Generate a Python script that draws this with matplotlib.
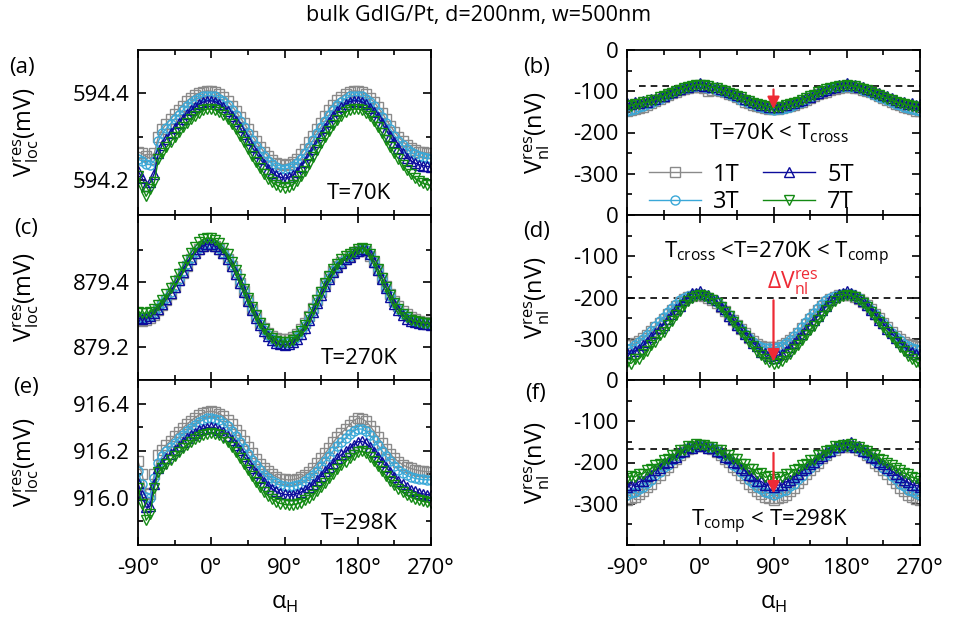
import numpy as np
import matplotlib
matplotlib.use('Agg')
import matplotlib.pyplot as plt

plt.rcParams['font.family'] = ['Open Sans', 'DejaVu Sans']
plt.rcParams['axes.unicode_minus'] = False
plt.rcParams['font.size'] = 16

# field angle alpha_H in degrees, 5 deg steps
angle = np.arange(-90, 271, 5)

fields = ['1T', '3T', '5T', '7T']
colors = ['#8a8a8a', '#3aa8d8', '#0c0c9c', '#138a13']
markers = ['s', 'o', '^', 'v']

# ---- (a) T=70K, V_loc (mV) ----
loc70_1T = [594.265, 594.262, 594.255, 594.250, 594.262, 594.300, 594.318, 594.330, 594.340, 594.352, 594.362, 594.372, 594.382, 594.390, 594.396, 594.401, 594.404, 594.406,
            594.405, 594.403, 594.398, 594.392, 594.383, 594.372, 594.360, 594.346, 594.332, 594.318, 594.303, 594.290, 594.277, 594.265, 594.255, 594.247, 594.240, 594.237,
            594.236, 594.238, 594.242, 594.250, 594.260, 594.272, 594.287, 594.302, 594.318, 594.333, 594.348, 594.362, 594.373, 594.384, 594.392, 594.399, 594.404, 594.406,
            594.405, 594.403, 594.398, 594.390, 594.380, 594.368, 594.355, 594.340, 594.326, 594.312, 594.300, 594.290, 594.281, 594.274, 594.269, 594.266, 594.264, 594.263, 594.263]
loc70_3T = [594.248, 594.245, 594.238, 594.236, 594.245, 594.290, 594.308, 594.320, 594.330, 594.341, 594.351, 594.361, 594.371, 594.379, 594.385, 594.390, 594.393, 594.395,
            594.395, 594.393, 594.388, 594.382, 594.373, 594.362, 594.350, 594.336, 594.322, 594.308, 594.293, 594.280, 594.267, 594.255, 594.245, 594.237, 594.230, 594.227,
            594.226, 594.228, 594.232, 594.240, 594.250, 594.262, 594.277, 594.292, 594.308, 594.323, 594.337, 594.351, 594.362, 594.373, 594.381, 594.388, 594.393, 594.395,
            594.395, 594.393, 594.388, 594.380, 594.370, 594.358, 594.345, 594.331, 594.317, 594.303, 594.291, 594.281, 594.272, 594.265, 594.260, 594.256, 594.253, 594.251, 594.250]
loc70_5T = [594.222, 594.205, 594.186, 594.195, 594.215, 594.262, 594.282, 594.296, 594.308, 594.320, 594.331, 594.342, 594.352, 594.361, 594.369, 594.376, 594.380, 594.383,
            594.383, 594.381, 594.376, 594.369, 594.360, 594.349, 594.336, 594.322, 594.307, 594.292, 594.277, 594.263, 594.249, 594.237, 594.226, 594.217, 594.211, 594.207,
            594.205, 594.207, 594.212, 594.220, 594.230, 594.243, 594.258, 594.273, 594.289, 594.305, 594.320, 594.334, 594.347, 594.359, 594.368, 594.376, 594.381, 594.383,
            594.383, 594.381, 594.375, 594.367, 594.357, 594.345, 594.331, 594.316, 594.301, 594.287, 594.274, 594.262, 594.252, 594.245, 594.240, 594.236, 594.234, 594.232, 594.231]
loc70_7T = [594.210, 594.185, 594.163, 594.180, 594.195, 594.248, 594.262, 594.276, 594.288, 594.300, 594.311, 594.322, 594.332, 594.341, 594.349, 594.356, 594.361, 594.364,
            594.364, 594.362, 594.357, 594.350, 594.341, 594.330, 594.317, 594.303, 594.288, 594.272, 594.257, 594.242, 594.228, 594.215, 594.204, 594.195, 594.189, 594.185,
            594.183, 594.185, 594.190, 594.198, 594.209, 594.222, 594.237, 594.253, 594.269, 594.285, 594.300, 594.314, 594.327, 594.339, 594.349, 594.357, 594.362, 594.364,
            594.364, 594.362, 594.356, 594.347, 594.336, 594.323, 594.308, 594.292, 594.277, 594.262, 594.249, 594.236, 594.224, 594.214, 594.205, 594.198, 594.193, 594.190, 594.188]

# ---- (b) T=70K, V_nl (nV) ----
nl70_1T = [-148, -146, -143, -140, -137, -133, -128, -124, -119, -115, -110, -105, -101, -97, -94, -92, -90, -89,
           -89, -92, -100, -96, -97, -99, -102, -106, -110, -115, -119, -125, -129, -133, -136, -139, -141, -143,
           -144, -143, -141, -139, -136, -133, -129, -125, -120, -116, -111, -107, -104, -101, -97, -94, -92, -90,
           -89, -89, -91, -93, -96, -99, -103, -107, -111, -116, -121, -126, -130, -134, -138, -141, -144, -147, -149]
nl70_3T = [-147, -145, -142, -139, -136, -132, -128, -123, -118, -114, -109, -104, -100, -96, -93, -91, -90, -88,
           -88, -89, -91, -93, -96, -99, -102, -106, -111, -115, -120, -124, -128, -132, -136, -139, -141, -143,
           -145, -144, -142, -140, -137, -133, -129, -125, -120, -115, -110, -106, -102, -98, -95, -92, -90, -89,
           -88, -89, -90, -93, -96, -100, -104, -108, -113, -117, -121, -126, -130, -134, -138, -141, -144, -146, -148]
nl70_5T = [-128, -132, -126, -129, -124, -125, -119, -118, -112, -111, -104, -102, -96, -95, -89, -90, -85, -86,
           -80, -87, -85, -90, -89, -95, -96, -102, -104, -110, -112, -118, -120, -126, -128, -133, -134, -138,
           -137, -139, -134, -134, -129, -128, -123, -121, -115, -113, -107, -105, -99, -97, -92, -90, -84, -86,
           -81, -86, -85, -90, -90, -95, -97, -102, -104, -110, -112, -117, -120, -125, -126, -131, -129, -134, -132]
nl70_7T = [-134, -136, -131, -132, -127, -127, -122, -120, -115, -112, -107, -104, -99, -96, -92, -89, -87, -84,
           -84, -86, -88, -91, -92, -97, -99, -104, -106, -112, -115, -120, -123, -128, -131, -134, -136, -139,
           -140, -138, -137, -134, -132, -128, -125, -121, -117, -112, -108, -103, -99, -95, -92, -90, -87, -87,
           -86, -88, -88, -92, -94, -98, -101, -106, -109, -114, -118, -122, -126, -129, -132, -134, -136, -137, -138]

# ---- (c) T=270K, V_loc (mV) ----
loc270_1T = [879.285, 879.282, 879.284, 879.290, 879.300, 879.314, 879.329, 879.346, 879.364, 879.384, 879.406, 879.428, 879.450, 879.470, 879.488, 879.501, 879.510, 879.515,
             879.515, 879.511, 879.502, 879.489, 879.471, 879.449, 879.425, 879.399, 879.372, 879.345, 879.319, 879.296, 879.276, 879.259, 879.245, 879.235, 879.229, 879.226,
             879.225, 879.227, 879.232, 879.242, 879.256, 879.274, 879.296, 879.320, 879.345, 879.370, 879.394, 879.415, 879.434, 879.450, 879.462, 879.472, 879.480, 879.488,
             879.495, 879.499, 879.495, 879.481, 879.461, 879.437, 879.412, 879.387, 879.364, 879.343, 879.326, 879.312, 879.301, 879.293, 879.287, 879.282, 879.279, 879.277, 879.276]
loc270_3T = [879.292, 879.290, 879.292, 879.297, 879.307, 879.320, 879.335, 879.351, 879.369, 879.389, 879.411, 879.433, 879.455, 879.475, 879.492, 879.505, 879.513, 879.518,
             879.517, 879.513, 879.504, 879.491, 879.474, 879.452, 879.428, 879.401, 879.373, 879.345, 879.318, 879.293, 879.271, 879.253, 879.238, 879.226, 879.218, 879.214,
             879.213, 879.215, 879.221, 879.231, 879.246, 879.265, 879.288, 879.313, 879.340, 879.366, 879.391, 879.413, 879.433, 879.450, 879.462, 879.472, 879.480, 879.489,
             879.497, 879.502, 879.498, 879.484, 879.462, 879.437, 879.410, 879.383, 879.358, 879.336, 879.318, 879.303, 879.292, 879.285, 879.280, 879.277, 879.275, 879.274, 879.273]
loc270_5T = [879.290, 879.288, 879.290, 879.295, 879.305, 879.318, 879.332, 879.348, 879.366, 879.386, 879.408, 879.430, 879.452, 879.472, 879.490, 879.503, 879.512, 879.517,
             879.516, 879.512, 879.503, 879.490, 879.472, 879.450, 879.425, 879.398, 879.370, 879.342, 879.315, 879.290, 879.268, 879.250, 879.235, 879.223, 879.214, 879.209,
             879.208, 879.210, 879.216, 879.226, 879.241, 879.260, 879.283, 879.309, 879.336, 879.362, 879.387, 879.410, 879.430, 879.447, 879.460, 879.470, 879.478, 879.488,
             879.497, 879.503, 879.500, 879.485, 879.463, 879.438, 879.410, 879.382, 879.356, 879.333, 879.314, 879.299, 879.288, 879.281, 879.277, 879.274, 879.272, 879.271, 879.270]
loc270_7T = [879.308, 879.305, 879.304, 879.308, 879.318, 879.331, 879.346, 879.363, 879.382, 879.403, 879.425, 879.447, 879.469, 879.490, 879.508, 879.522, 879.531, 879.535,
             879.534, 879.529, 879.519, 879.505, 879.486, 879.463, 879.437, 879.409, 879.380, 879.351, 879.324, 879.298, 879.276, 879.257, 879.241, 879.229, 879.221, 879.217,
             879.216, 879.218, 879.224, 879.234, 879.249, 879.268, 879.292, 879.318, 879.345, 879.371, 879.396, 879.419, 879.440, 879.457, 879.470, 879.479, 879.486, 879.494,
             879.502, 879.506, 879.502, 879.487, 879.465, 879.440, 879.413, 879.386, 879.360, 879.337, 879.318, 879.303, 879.292, 879.285, 879.280, 879.277, 879.275, 879.274, 879.273]

# ---- (d) T=270K, V_nl (nV) ----
nl270_1T = [-314, -316, -311, -306, -299, -291, -282, -272, -262, -251, -241, -230, -220, -211, -204, -199, -196, -195,
            -195, -197, -201, -207, -214, -223, -233, -244, -255, -266, -277, -287, -297, -305, -312, -317, -320, -321,
            -320, -319, -316, -311, -304, -296, -286, -275, -264, -252, -241, -230, -220, -211, -203, -198, -195, -194,
            -194, -195, -198, -203, -210, -218, -228, -239, -250, -261, -272, -283, -293, -301, -308, -313, -316, -318, -319]
nl270_3T = [-324, -322, -316, -308, -300, -290, -281, -270, -258, -248, -236, -226, -216, -207, -200, -196, -193, -192,
            -192, -194, -198, -204, -212, -221, -232, -243, -255, -266, -277, -288, -298, -307, -314, -319, -322, -323,
            -322, -321, -317, -311, -303, -294, -283, -272, -260, -248, -237, -226, -216, -207, -200, -196, -193, -191,
            -191, -192, -196, -202, -210, -219, -230, -241, -252, -263, -274, -285, -295, -304, -312, -318, -322, -326, -328]
nl270_5T = [-334, -338, -329, -325, -316, -308, -296, -286, -274, -266, -252, -241, -229, -220, -206, -199, -190, -190,
            -185, -191, -193, -202, -207, -220, -229, -244, -253, -267, -274, -289, -296, -311, -318, -331, -335, -342,
            -346, -340, -337, -329, -320, -311, -298, -289, -276, -266, -254, -244, -230, -221, -207, -199, -191, -189,
            -184, -190, -193, -201, -208, -218, -230, -240, -254, -263, -276, -285, -298, -308, -318, -327, -332, -338, -336]
nl270_7T = [-356, -360, -350, -349, -337, -330, -316, -307, -292, -283, -267, -257, -242, -233, -218, -209, -200, -197,
            -194, -196, -200, -205, -214, -222, -235, -245, -259, -269, -283, -293, -307, -317, -331, -339, -350, -356,
            -362, -358, -354, -344, -337, -324, -316, -302, -292, -278, -268, -254, -244, -231, -221, -208, -202, -196,
            -193, -196, -199, -206, -213, -224, -235, -247, -259, -272, -283, -296, -307, -320, -330, -342, -349, -356, -360]

# ---- (e) T=298K, V_loc (mV) ----
loc298_1T = [916.155, 916.100, 916.020, 916.015, 916.100, 916.180, 916.205, 916.225, 916.243, 916.262, 916.280, 916.296, 916.312, 916.327, 916.340, 916.352, 916.360, 916.366,
             916.367, 916.364, 916.357, 916.346, 916.331, 916.312, 916.290, 916.266, 916.240, 916.214, 916.189, 916.166, 916.145, 916.127, 916.112, 916.100, 916.090, 916.082,
             916.078, 916.076, 916.077, 916.081, 916.088, 916.098, 916.111, 916.127, 916.146, 916.167, 916.189, 916.212, 916.236, 916.258, 916.276, 916.292, 916.310, 916.328,
             916.338, 916.336, 916.325, 916.306, 916.282, 916.257, 916.232, 916.208, 916.186, 916.168, 916.153, 916.141, 916.132, 916.125, 916.120, 916.116, 916.113, 916.111, 916.110]
loc298_3T = [916.112, 916.060, 916.005, 916.000, 916.085, 916.150, 916.176, 916.197, 916.215, 916.234, 916.252, 916.268, 916.284, 916.298, 916.311, 916.322, 916.331, 916.337,
             916.339, 916.336, 916.329, 916.318, 916.303, 916.284, 916.262, 916.238, 916.212, 916.186, 916.161, 916.138, 916.117, 916.099, 916.084, 916.071, 916.061, 916.054,
             916.050, 916.048, 916.049, 916.053, 916.060, 916.070, 916.083, 916.098, 916.116, 916.136, 916.157, 916.178, 916.200, 916.220, 916.238, 916.254, 916.270, 916.284,
             916.292, 916.292, 916.283, 916.267, 916.246, 916.223, 916.199, 916.176, 916.155, 916.136, 916.120, 916.106, 916.096, 916.088, 916.083, 916.080, 916.078, 916.077, 916.076]
loc298_5T = [916.062, 916.010, 915.960, 915.965, 916.060, 916.125, 916.150, 916.168, 916.186, 916.204, 916.221, 916.237, 916.252, 916.265, 916.277, 916.287, 916.294, 916.298,
             916.300, 916.297, 916.290, 916.279, 916.264, 916.246, 916.225, 916.202, 916.177, 916.152, 916.128, 916.105, 916.084, 916.066, 916.050, 916.037, 916.027, 916.019,
             916.015, 916.013, 916.014, 916.018, 916.024, 916.033, 916.045, 916.059, 916.075, 916.093, 916.112, 916.131, 916.150, 916.168, 916.184, 916.198, 916.212, 916.226,
             916.238, 916.240, 916.232, 916.216, 916.196, 916.174, 916.151, 916.129, 916.108, 916.089, 916.072, 916.057, 916.045, 916.035, 916.027, 916.021, 916.017, 916.014, 916.013]
loc298_7T = [916.040, 915.975, 915.905, 915.930, 916.040, 916.110, 916.128, 916.145, 916.162, 916.179, 916.195, 916.210, 916.224, 916.237, 916.249, 916.259, 916.267, 916.272,
             916.275, 916.272, 916.265, 916.253, 916.237, 916.217, 916.194, 916.169, 916.143, 916.117, 916.091, 916.067, 916.045, 916.026, 916.009, 915.995, 915.984, 915.976,
             915.972, 915.970, 915.971, 915.974, 915.980, 915.989, 916.000, 916.014, 916.030, 916.047, 916.065, 916.084, 916.103, 916.121, 916.138, 916.154, 916.169, 916.183,
             916.195, 916.197, 916.190, 916.175, 916.156, 916.135, 916.113, 916.092, 916.072, 916.054, 916.038, 916.024, 916.012, 916.003, 915.996, 915.990, 915.985, 915.982, 915.980]

# ---- (f) T=298K, V_nl (nV) ----
nl298_1T = [-292, -286, -284, -276, -270, -259, -251, -238, -230, -217, -210, -199, -192, -181, -175, -167, -165, -160,
            -161, -160, -165, -167, -175, -181, -192, -199, -210, -217, -230, -238, -251, -259, -270, -276, -284, -286,
            -291, -287, -283, -278, -268, -261, -249, -240, -228, -219, -208, -201, -190, -183, -173, -169, -163, -162,
            -159, -162, -163, -169, -173, -183, -190, -201, -208, -219, -228, -240, -249, -261, -268, -278, -283, -288, -292]
nl298_3T = [-279, -273, -272, -264, -259, -249, -242, -230, -223, -212, -205, -195, -189, -179, -174, -166, -165, -160,
            -161, -160, -164, -166, -173, -179, -189, -195, -205, -212, -223, -230, -242, -249, -259, -264, -272, -274,
            -278, -275, -270, -266, -257, -251, -240, -232, -221, -214, -203, -197, -187, -181, -172, -168, -163, -161,
            -160, -162, -163, -168, -172, -181, -187, -197, -203, -213, -221, -232, -240, -251, -257, -266, -270, -275, -279]
nl298_5T = [-259, -254, -255, -246, -244, -233, -230, -218, -214, -202, -199, -188, -186, -174, -173, -162, -164, -155,
            -159, -157, -165, -164, -173, -175, -186, -188, -199, -202, -214, -218, -230, -233, -244, -246, -255, -254,
            -259, -255, -254, -247, -243, -234, -229, -219, -213, -203, -198, -188, -184, -175, -171, -163, -162, -155,
            -157, -150, -163, -160, -173, -174, -186, -189, -198, -203, -213, -219, -228, -234, -243, -247, -254, -255, -259]
nl298_7T = [-237, -232, -235, -227, -227, -217, -215, -205, -203, -193, -192, -181, -181, -170, -170, -161, -163, -156,
            -158, -157, -163, -162, -170, -170, -181, -181, -192, -192, -203, -204, -215, -216, -227, -226, -236, -232,
            -239, -234, -235, -228, -227, -218, -216, -206, -204, -193, -193, -183, -181, -171, -170, -161, -163, -157,
            -159, -156, -163, -162, -170, -171, -180, -183, -191, -194, -202, -206, -214, -218, -226, -229, -236, -238, -244]

loc_sets = [(loc70_1T, loc70_3T, loc70_5T, loc70_7T),
            (loc270_1T, loc270_3T, loc270_5T, loc270_7T),
            (loc298_1T, loc298_3T, loc298_5T, loc298_7T)]
nl_sets = [(nl70_1T, nl70_3T, nl70_5T, nl70_7T),
           (nl270_1T, nl270_3T, nl270_5T, nl270_7T),
           (nl298_1T, nl298_3T, nl298_5T, nl298_7T)]

loc_ylims = [(594.12, 594.50), (879.10, 879.606), (915.80, 916.50)]
loc_major = [[594.2, 594.4], [879.2, 879.4], [916.0, 916.2, 916.4]]
loc_minor = [[594.3], [879.3, 879.5], [915.9, 916.1, 916.3]]
temps = ['T=70K', 'T=270K', 'T=298K']
dashed_y = [-87, -200, -168]
arrow_y = [(-89, -150), (-200, -362), (-170, -282)]

red = '#ee2a35'
fig = plt.figure(figsize=(9.58, 6.26), dpi=100)

W = 293 / 958
H = 165 / 626
rows_y0 = [1 - 215 / 626, 1 - 380 / 626, 1 - 545 / 626]
left_x0 = 138 / 958
right_x0 = 627 / 958


def style_axis(ax, bottom):
    ax.set_xlim(-90, 270)
    ax.set_xticks([-90, 0, 90, 180, 270])
    ax.set_xticks([-45, 45, 135, 225], minor=True)
    ax.tick_params(which='both', direction='in', top=True, right=True, width=1.2)
    ax.tick_params(which='major', length=6, pad=6)
    ax.tick_params(which='minor', length=3.5)
    ax.tick_params(axis='x', which='major', pad=9)
    for sp in ax.spines.values():
        sp.set_linewidth(1.3)
    if bottom:
        ax.set_xticklabels(['-90°', '0°', '90°', '180°', '270°'])
        ax.set_xlabel('α$_\\mathregular{H}$', fontsize=17, labelpad=9)
    else:
        ax.set_xticklabels([])


def draw_series(ax, series):
    for vals, c, m, lab in zip(series, colors, markers, fields):
        ax.plot(angle, vals, color=c, marker=m, ms=6.5, mfc='none', mew=1.0,
                lw=1.0, label=lab)


for r in range(3):
    # left column: local signal
    ax = fig.add_axes([left_x0, rows_y0[r], W, H])
    draw_series(ax, loc_sets[r])
    style_axis(ax, r == 2)
    ax.set_ylim(*loc_ylims[r])
    ax.set_yticks(loc_major[r])
    ax.set_yticks(loc_minor[r], minor=True)
    ax.set_yticklabels(['%.1f' % v for v in loc_major[r]])
    ax.set_ylabel('V$^\\mathregular{res}_\\mathregular{loc}$(mV)', fontsize=17)
    ax.yaxis.set_label_coords(-0.33, 0.5)
    ax.text(0.755, 0.13, temps[r], transform=ax.transAxes, ha='center', va='center', fontsize=16)

    # right column: nonlocal signal
    ax = fig.add_axes([right_x0, rows_y0[r], W, H])
    x0 = -75 if r == 0 else -90
    ax.plot([x0, 270], [dashed_y[r]] * 2, color='k', ls=(0, (4, 3)), lw=1.2, zorder=1)
    draw_series(ax, nl_sets[r])
    style_axis(ax, r == 2)
    ax.set_ylim(-400, 0)
    ax.set_yticks([-400, -300, -200, -100, 0])
    ax.set_yticks([-350, -250, -150, -50], minor=True)
    ax.set_yticklabels(['', '-300', '-200', '-100', '0'])
    ax.set_ylabel('V$^\\mathregular{res}_\\mathregular{nl}$(nV)', fontsize=17)
    ax.yaxis.set_label_coords(-0.255, 0.5)
    ya, yb = arrow_y[r]
    ax.annotate('', xy=(90, yb), xytext=(90, ya),
                arrowprops=dict(arrowstyle='-|>', color=red, lw=1.6, mutation_scale=18),
                zorder=5)
    if r == 0:
        ax.text(0.52, 0.46, 'T=70K < T$_\\mathregular{cross}$', transform=ax.transAxes,
                ha='center', va='baseline', fontsize=16)
        ax.legend(loc='lower left', bbox_to_anchor=(0.02, -0.095), ncol=2, frameon=False,
                  numpoints=1, handlelength=2.2, columnspacing=1.0, labelspacing=0.15,
                  handletextpad=0.5, fontsize=17, borderpad=0.2)
    elif r == 1:
        ax.text(0.51, 0.735, 'T$_\\mathregular{cross}$ <T=270K < T$_\\mathregular{comp}$',
                transform=ax.transAxes, ha='center', va='baseline', fontsize=16)
        ax.text(0.565, 0.552, 'ΔV$^\\mathregular{res}_\\mathregular{nl}$', transform=ax.transAxes,
                ha='center', va='baseline', fontsize=16.5, color=red)
    else:
        ax.text(0.485, 0.11, 'T$_\\mathregular{comp}$ < T=298K', transform=ax.transAxes,
                ha='center', va='baseline', fontsize=16)

# panel letters
for lab, (px, py) in zip(['(a)', '(b)', '(c)', '(d)', '(e)', '(f)'],
                         [(22, 68), (537, 67), (26, 228), (537, 232), (26, 388), (535, 393)]):
    fig.text(px / 958, 1 - py / 626, lab, ha='center', va='center', fontsize=16)

fig.text(0.5, 1 - 15 / 626, 'bulk GdIG/Pt, d=200nm, w=500nm', ha='center', va='center', fontsize=15.5)

fig.savefig('out.png', dpi=100)
